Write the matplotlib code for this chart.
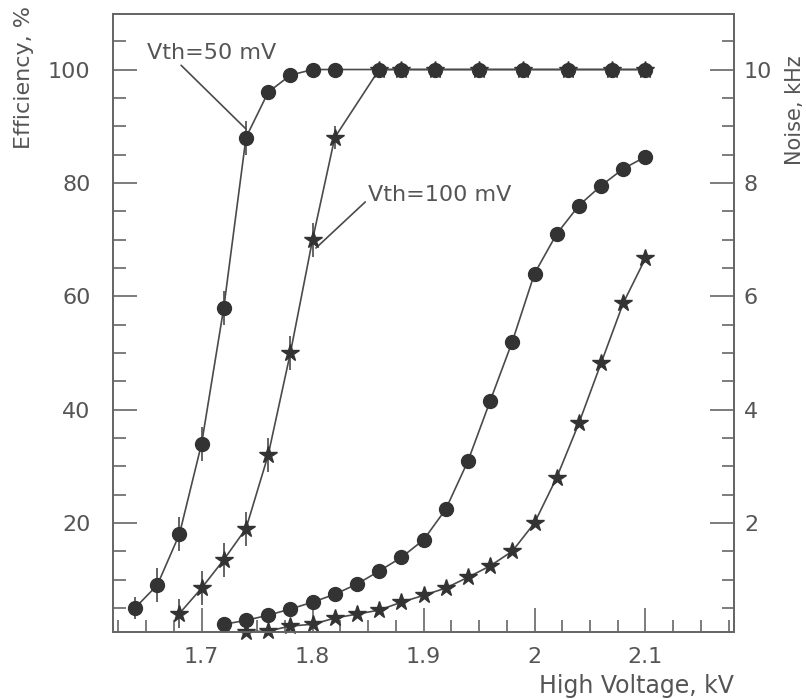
import matplotlib
matplotlib.use('Agg')
import matplotlib.pyplot as plt
from matplotlib.ticker import MultipleLocator

# Efficiency vs high voltage, two thresholds
hv_eff_50 = [1.64, 1.66, 1.68, 1.70, 1.72, 1.74, 1.76, 1.78, 1.80, 1.82,
             1.86, 1.88, 1.91, 1.95, 1.99, 2.03, 2.07, 2.10]
eff_50 = [5, 9, 18, 34, 58, 88, 96, 99, 100, 100,
          100, 100, 100, 100, 100, 100, 100, 100]
err_50 = [2, 3, 3, 3, 3, 3, 0, 0, 0, 0,
          0, 0, 0, 0, 0, 0, 0, 0]

hv_eff_100 = [1.68, 1.70, 1.72, 1.74, 1.76, 1.78, 1.80, 1.82,
              1.86, 1.88, 1.91, 1.95, 1.99, 2.03, 2.07, 2.10]
eff_100 = [4, 8.5, 13.5, 19, 32, 50, 70, 88,
           100, 100, 100, 100, 100, 100, 100, 100]
err_100 = [2.5, 3, 3, 3, 3, 3, 3, 2,
           0, 0, 0, 0, 0, 0, 0, 0]

# Noise rate (kHz), right axis
hv_noise_50 = [1.72, 1.74, 1.76, 1.78, 1.80, 1.82, 1.84, 1.86, 1.88, 1.90,
               1.92, 1.94, 1.96, 1.98, 2.00, 2.02, 2.04, 2.06, 2.08, 2.10]
noise_50 = [0.21, 0.28, 0.37, 0.48, 0.60, 0.74, 0.92, 1.15, 1.39, 1.70,
            2.24, 3.09, 4.15, 5.20, 6.40, 7.10, 7.60, 7.95, 8.25, 8.46]

hv_noise_100 = [1.74, 1.76, 1.78, 1.80, 1.82, 1.84, 1.86, 1.88, 1.90, 1.92,
                1.94, 1.96, 1.98, 2.00, 2.02, 2.04, 2.06, 2.08, 2.10]
noise_100 = [0.08, 0.09, 0.18, 0.21, 0.32, 0.39, 0.46, 0.60, 0.72, 0.85,
             1.04, 1.24, 1.50, 2.00, 2.80, 3.76, 4.82, 5.88, 6.67]

eff_ticks = [20, 40, 60, 80, 100]
noise_ticks = [2, 4, 6, 8, 10]
hv_ticks = [1.7, 1.8, 1.9, 2.0, 2.1]
hv_labels = ['1.7', '1.8', '1.9', '2', '2.1']

plt.rcParams['font.family'] = ['DejaVu Sans']
text_c = '#555555'
line_c = '#4a4a4a'
mark_c = '#333333'
axis_c = '#666666'

fig = plt.figure(figsize=(8.06, 6.99), dpi=100)
ax = fig.add_axes([0.140, 0.096, 0.771, 0.884])
ax2 = ax.twinx()

# efficiency curves with error bars
ax.errorbar(hv_eff_50, eff_50, yerr=err_50, fmt='-o', color=line_c,
            mfc=mark_c, mec=mark_c, ms=10, lw=1.2, elinewidth=1.2, capsize=0,
            zorder=3)
ax.errorbar(hv_eff_100, eff_100, yerr=err_100, fmt='-*', color=line_c,
            mfc=mark_c, mec=mark_c, ms=13, lw=1.2, elinewidth=1.2, capsize=0,
            zorder=3)

# noise curves
ax2.plot(hv_noise_50, noise_50, '-o', color=line_c, mfc=mark_c, mec=mark_c,
         ms=10, lw=1.2, clip_on=False)
ax2.plot(hv_noise_100, noise_100, '-*', color=line_c, mfc=mark_c, mec=mark_c,
         ms=13, lw=1.2, clip_on=False)

ax.set_xlim(1.62, 2.18)
ax.set_ylim(0.76, 109.8)
ax2.set_ylim(0.076, 10.98)

ax.set_xticks(hv_ticks)
ax.set_xticklabels(hv_labels)
ax.xaxis.set_minor_locator(MultipleLocator(0.025))
ax.set_yticks(eff_ticks)
ax.yaxis.set_minor_locator(MultipleLocator(5))
ax2.set_yticks(noise_ticks)
ax2.yaxis.set_minor_locator(MultipleLocator(0.5))

for a in (ax, ax2):
    for s in a.spines.values():
        s.set_color(axis_c)
        s.set_linewidth(1.3)
ax.tick_params(axis='both', which='both', direction='in', colors=axis_c,
               labelcolor=text_c, labelsize=16, width=1.2)
ax.tick_params(axis='both', which='major', length=17)
ax.tick_params(axis='both', which='minor', length=9)
ax.tick_params(axis='y', pad=16)
ax.tick_params(axis='x', pad=11)
ax2.tick_params(axis='y', which='both', direction='in', colors=axis_c,
                labelcolor=text_c, labelsize=16, width=1.2, pad=7)
ax2.tick_params(axis='y', which='major', length=17)
ax2.tick_params(axis='y', which='minor', length=9)

# axis titles
fig.text(24 / 806, 1 - 6 / 699, 'Efficiency, %', rotation=90, ha='center',
         va='top', fontsize=16, color=text_c)
fig.text(795 / 806, 1 - 110 / 699, 'Noise, kHz', rotation=90, ha='center',
         va='center', fontsize=15, color=text_c)
fig.text(734 / 806, 1 - 686 / 699, 'High Voltage, kV', ha='right',
         va='center', fontsize=17, color=text_c)

# threshold labels
ax.annotate('Vth=50 mV', xy=(1.74, 89.5), xytext=(1.651, 103),
            ha='left', va='center', fontsize=16, color=text_c,
            arrowprops=dict(arrowstyle='-', color=line_c, lw=1.2,
                            relpos=(0.24, 0.0), shrinkA=0, shrinkB=0))
ax.annotate('Vth=100 mV', xy=(1.803, 68.5), xytext=(1.850, 77.8),
            ha='left', va='center', fontsize=16, color=text_c,
            arrowprops=dict(arrowstyle='-', color=line_c, lw=1.2,
                            relpos=(0.0, 0.3), shrinkA=0, shrinkB=0))

fig.savefig('out.png', dpi=100)
